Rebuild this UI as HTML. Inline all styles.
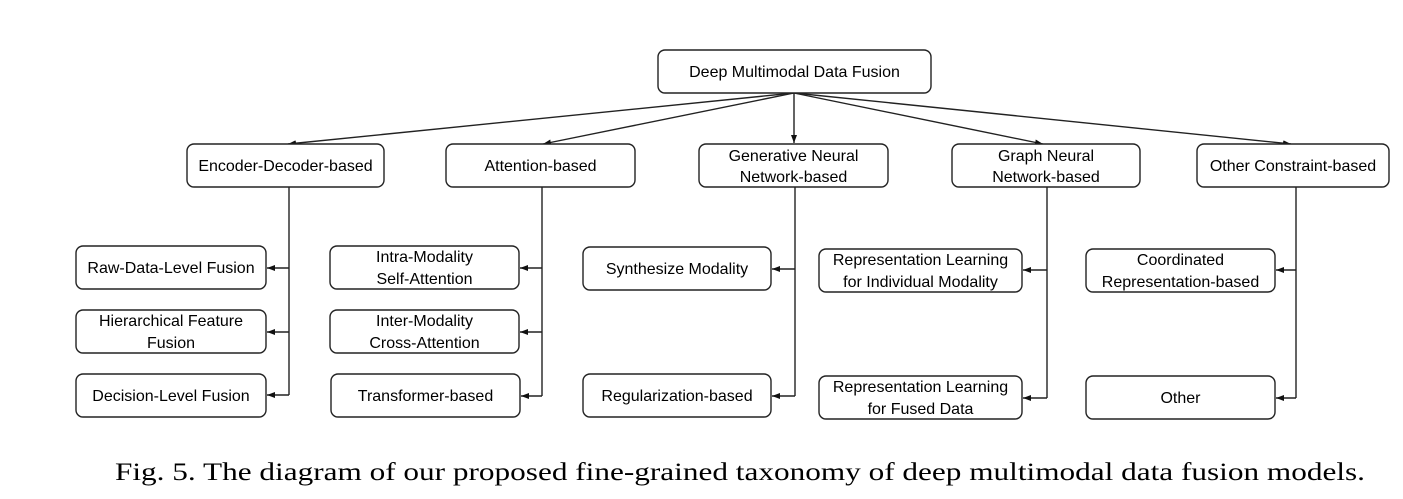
<!DOCTYPE html>
<html><head><meta charset="utf-8"><style>
html,body{margin:0;padding:0;background:#fff;}
svg{display:block;}
text{font-family:"Liberation Sans",sans-serif;font-size:16px;fill:#000;text-anchor:middle;}
.cap{font-family:"Liberation Serif",serif;font-size:25px;text-anchor:start;}
rect{fill:#fff;stroke:#222;stroke-width:1.4;}
line,polyline{stroke:#222;stroke-width:1.4;fill:none;}
</style></head><body>
<svg width="1403" height="499" viewBox="0 0 1403 499" xmlns="http://www.w3.org/2000/svg">
<defs><marker id="a" markerWidth="9" markerHeight="9" refX="8" refY="4.5" orient="auto" markerUnits="userSpaceOnUse"><path d="M0,1.5 L8,4.5 L0,7.5z" fill="#111"/></marker></defs>
<line x1="794" y1="93" x2="288" y2="144" marker-end="url(#a)"/>
<line x1="794" y1="93" x2="543" y2="144" marker-end="url(#a)"/>
<line x1="794" y1="93" x2="794" y2="143" marker-end="url(#a)"/>
<line x1="794" y1="93" x2="1043" y2="144" marker-end="url(#a)"/>
<line x1="794" y1="93" x2="1291" y2="144" marker-end="url(#a)"/>
<rect x="658" y="50" width="273" height="43" rx="7"/>
<text x="794.5" y="77">Deep Multimodal Data Fusion</text>
<rect x="187" y="144" width="197" height="43" rx="7"/><text x="285.5" y="171">Encoder-Decoder-based</text>
<rect x="446" y="144" width="189" height="43" rx="7"/><text x="540.5" y="171">Attention-based</text>
<rect x="699" y="144" width="189" height="43" rx="7"/><text x="793.5" y="161">Generative Neural</text><text x="793.5" y="182">Network-based</text>
<rect x="952" y="144" width="188" height="43" rx="7"/><text x="1046" y="161">Graph Neural</text><text x="1046" y="182">Network-based</text>
<rect x="1197" y="144" width="192" height="43" rx="7"/><text x="1293" y="171">Other Constraint-based</text>
<polyline points="289,187 289,395"/>
<line x1="289" y1="268" x2="267" y2="268" marker-end="url(#a)"/>
<line x1="289" y1="332" x2="267" y2="332" marker-end="url(#a)"/>
<line x1="289" y1="395" x2="267" y2="395" marker-end="url(#a)"/>
<polyline points="542,187 542,396"/>
<line x1="542" y1="268" x2="520" y2="268" marker-end="url(#a)"/>
<line x1="542" y1="332" x2="520" y2="332" marker-end="url(#a)"/>
<line x1="542" y1="396" x2="521" y2="396" marker-end="url(#a)"/>
<polyline points="795,187 795,396"/>
<line x1="795" y1="269" x2="772" y2="269" marker-end="url(#a)"/>
<line x1="795" y1="396" x2="772" y2="396" marker-end="url(#a)"/>
<polyline points="1047,187 1047,398"/>
<line x1="1047" y1="270" x2="1023" y2="270" marker-end="url(#a)"/>
<line x1="1047" y1="398" x2="1023" y2="398" marker-end="url(#a)"/>
<polyline points="1296,187 1296,398"/>
<line x1="1296" y1="270" x2="1276" y2="270" marker-end="url(#a)"/>
<line x1="1296" y1="398" x2="1276" y2="398" marker-end="url(#a)"/>
<rect x="76" y="246" width="190" height="43" rx="7"/><text x="171" y="273">Raw-Data-Level Fusion</text>
<rect x="76" y="310" width="190" height="43" rx="7"/><text x="171" y="326">Hierarchical Feature</text><text x="171" y="348">Fusion</text>
<rect x="76" y="374" width="190" height="43" rx="7"/><text x="171" y="401">Decision-Level Fusion</text>
<rect x="330" y="246" width="189" height="43" rx="7"/><text x="424.5" y="262">Intra-Modality</text><text x="424.5" y="284">Self-Attention</text>
<rect x="330" y="310" width="189" height="43" rx="7"/><text x="424.5" y="326">Inter-Modality</text><text x="424.5" y="348">Cross-Attention</text>
<rect x="331" y="374" width="189" height="43" rx="7"/><text x="425.5" y="401">Transformer-based</text>
<rect x="583" y="247" width="188" height="43" rx="7"/><text x="677" y="274">Synthesize Modality</text>
<rect x="583" y="374" width="188" height="43" rx="7"/><text x="677" y="401">Regularization-based</text>
<rect x="819" y="249" width="203" height="43" rx="7"/><text x="920.5" y="265">Representation Learning</text><text x="920.5" y="287">for Individual Modality</text>
<rect x="819" y="376" width="203" height="43" rx="7"/><text x="920.5" y="392">Representation Learning</text><text x="920.5" y="414">for Fused Data</text>
<rect x="1086" y="249" width="189" height="43" rx="7"/><text x="1180.5" y="265">Coordinated</text><text x="1180.5" y="287">Representation-based</text>
<rect x="1086" y="376" width="189" height="43" rx="7"/><text x="1180.5" y="403">Other</text>
<text class="cap" x="115" y="480" textLength="1250" lengthAdjust="spacingAndGlyphs">Fig. 5.  The diagram of our proposed fine-grained taxonomy of deep multimodal data fusion models.</text>
</svg>
</body></html>
